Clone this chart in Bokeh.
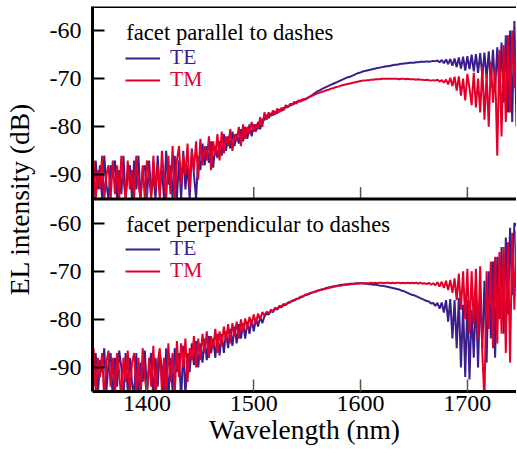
import numpy as np
from bokeh.plotting import figure
from bokeh.models import Range1d, FixedTicker, Span, Label, Legend, LegendItem
from bokeh.embed import file_html
from bokeh.resources import INLINE

# ---------------- data ----------------
wavelength = list(range(1350, 1747, 2))  # nm, 2 nm sampling

x_ticks = [1400, 1500, 1600, 1700]
y_ticks_panel = [-90, -80, -70, -60]

# facet parallel to dashes
par_tm = [
    -87, -96, -89, -93, -86, -97, -90, -88, -95, -87,
    -94, -88, -97, -86, -91, -96, -87, -93, -89, -97,
    -86, -92, -96, -88, -95, -87, -90, -97, -86, -93,
    -88, -96, -85, -91, -97, -86, -94, -84, -96, -87,
    -84, -92, -86, -90, -83.5, -93, -85, -89, -83, -91,
    -82.5, -88, -84, -87, -82, -89, -83, -86, -81.5, -87,
    -81, -85.5, -82, -84, -80.5, -85, -81.5, -83, -80, -84,
    -79.5, -82.5, -80, -81.5, -79, -81, -79.5, -80.5, -78, -80,
    -77, -78.5, -77, -77.8, -76.6, -77.5, -76.2, -77, -76, -76.6,
    -75.5, -76, -75.2, -75.5, -74.8, -75.2, -74.5, -74.8, -74.2, -74.4,
    -74.0, -73.8, -73.6, -73.4, -73.2, -73.0, -72.9, -72.7, -72.6, -72.4,
    -72.3, -72.1, -72.0, -71.8, -71.7, -71.6, -71.4, -71.3, -71.2, -71.1,
    -71.0, -70.9, -70.8, -70.7, -70.6, -70.5, -70.4, -70.4, -70.3, -70.3,
    -70.2, -70.2, -70.1, -70.1, -70.1, -70.0, -70.0, -70.0, -70.0, -70.0,
    -70.0, -70.0, -70.0, -70.1, -70.0, -70.0, -70.1, -70.0, -70.1, -70.1,
    -70.1, -70.2, -70.1, -70.2, -70.2, -70.3, -70.2, -70.3, -70.4, -70.3,
    -70.4, -70.2, -70.6, -70.3, -70.8, -70.2, -71.2, -69.8, -71.5, -69.6,
    -72.5, -69.5, -73.5, -70, -74.5, -69, -72, -75.5, -68.8, -76,
    -70, -77, -67.5, -78.5, -69, -80, -66.5, -75, -68, -86,
    -64, -82, -63, -79, -61, -77, -60, -72, -62,
]
par_te = [
    -95, -87, -93, -88, -97, -86, -92, -96, -88, -90,
    -87, -97, -89, -94, -86, -96, -90, -88, -97, -87,
    -93, -86, -97, -89, -88, -96, -87, -94, -90, -97,
    -86, -93, -89, -97, -85, -92, -88, -97, -86, -95,
    -87, -97, -85, -93, -88, -96, -84.5, -90, -97, -86,
    -89, -83.5, -88, -84, -87.5, -83, -88.5, -84, -86.5, -83,
    -86, -81.5, -85, -82, -84.5, -81, -84, -81.5, -83.5, -80.5,
    -83, -80, -82.5, -79.5, -82, -79.5, -81, -79, -80.5, -78.5,
    -78.6, -77.5, -78.2, -77.2, -77.6, -76.8, -77.2, -76.4, -76.7, -76.1,
    -76.0, -75.7, -75.6, -75.2, -75.2, -74.8, -74.8, -74.5, -74.5, -74.2,
    -74.1, -73.8, -73.5, -73.2, -72.9, -72.6, -72.4, -72.1, -71.9, -71.7,
    -71.5, -71.3, -71.1, -70.9, -70.7, -70.5, -70.3, -70.1, -69.9, -69.7,
    -69.6, -69.4, -69.2, -69.0, -68.8, -68.7, -68.5, -68.4, -68.3, -68.2,
    -68.1, -68.0, -67.9, -67.8, -67.7, -67.6, -67.5, -67.4, -67.4, -67.3,
    -67.2, -67.1, -67.1, -67.0, -66.9, -66.9, -66.8, -66.8, -66.7, -66.7,
    -66.7, -66.6, -66.6, -66.5, -66.5, -66.5, -66.4, -66.5, -66.4, -66.3,
    -66.4, -66.2, -66.6, -66.1, -66.8, -66.0, -67.0, -65.9, -67.3, -65.8,
    -67.6, -65.6, -67.9, -65.4, -68.3, -65.3, -68.0, -65.0, -68.5, -64.9,
    -68.8, -64.7, -69.5, -64.6, -70, -64.3, -71, -64, -72, -63.5,
    -73, -62.5, -75, -61, -77, -60, -79, -58, -80,
]

# facet perpendicular to dashes
perp_tm = [
    -86, -95, -88, -92, -87, -97, -89, -86.5, -94, -88,
    -96, -87, -91, -97, -88, -93, -86.5, -96, -89, -87,
    -95, -88, -97, -86, -92, -96, -88, -94, -85.5, -97,
    -89, -86, -95, -88, -97, -85, -93, -87, -96, -84.5,
    -92, -85, -90, -84, -93, -86, -88.5, -83.5, -90, -84,
    -88.5, -83, -87, -82.5, -88, -83.5, -86, -82, -87, -82.5,
    -85.5, -81.5, -84.5, -81, -85, -80.8, -83.5, -80.5, -84, -80,
    -82.5, -79.8, -82, -79.5, -81.3, -79, -80.8, -78.8, -80, -78.5,
    -79.2, -78.4, -78.8, -78.0, -78.3, -77.6, -77.8, -77.2, -77.3, -76.8,
    -76.9, -76.5, -76.4, -76.1, -76.0, -75.7, -75.6, -75.3, -75.2, -74.9,
    -74.8, -74.6, -74.5, -74.3, -74.2, -74.0, -73.9, -73.8, -73.7, -73.6,
    -73.5, -73.4, -73.3, -73.2, -73.1, -73.0, -73.0, -72.9, -72.8, -72.8,
    -72.7, -72.7, -72.6, -72.6, -72.6, -72.5, -72.5, -72.5, -72.5, -72.5,
    -72.4, -72.5, -72.4, -72.5, -72.4, -72.4, -72.5, -72.4, -72.4, -72.5,
    -72.4, -72.5, -72.4, -72.4, -72.5, -72.4, -72.5, -72.4, -72.5, -72.4,
    -72.5, -72.4, -72.6, -72.4, -72.6, -72.5, -72.7, -72.4, -72.8, -72.5,
    -72.9, -72.3, -73.2, -72.2, -73.5, -72.0, -73.9, -71.8, -74.5, -71.5,
    -76, -70.5, -78, -70, -80, -69.5, -83, -70, -81, -69.5,
    -84, -69, -87, -97, -70, -82, -68, -86, -67, -85,
    -66, -83, -65, -87, -64, -89, -62, -78, -61.5,
]
perp_te = [
    -94, -87, -96, -88.5, -91, -86, -95, -89, -87, -97,
    -88, -94, -86.5, -90, -97, -87, -95, -88, -93, -96,
    -87, -97, -89, -93, -86.5, -95, -90, -87, -97, -88,
    -94, -87, -90, -96, -86, -97, -88, -95, -86, -91,
    -87, -97, -85.5, -96, -87, -91, -85, -89.5, -84.5, -90,
    -85, -89, -84, -88.5, -83.5, -87, -84, -88, -83, -87.5,
    -83, -87, -82.5, -86, -82, -85.5, -81.5, -85, -81, -84,
    -80.8, -84, -80.5, -83, -80, -82.5, -79.8, -81.5, -79.5, -80.8,
    -79.4, -78.8, -79.0, -78.3, -78.5, -77.8, -78.0, -77.4, -77.5, -77.0,
    -77.0, -76.6, -76.5, -76.2, -76.1, -75.8, -75.7, -75.4, -75.3, -75.0,
    -74.9, -74.7, -74.5, -74.4, -74.2, -74.1, -73.9, -73.8, -73.7, -73.5,
    -73.4, -73.3, -73.2, -73.1, -73.0, -72.9, -72.8, -72.8, -72.7, -72.7,
    -72.6, -72.6, -72.6, -72.5, -72.5, -72.5, -72.5, -72.6, -72.6, -72.7,
    -72.7, -72.8, -72.8, -72.9, -73.0, -73.0, -73.1, -73.2, -73.3, -73.4,
    -73.5, -73.6, -73.7, -73.8, -74.0, -74.1, -74.3, -74.5, -74.7, -74.9,
    -75.0, -75.2, -75.4, -75.6, -75.8, -76.0, -76.2, -76.3, -76.7, -76.6,
    -77.2, -76.6, -77.8, -76.5, -78.6, -76.0, -80.5, -75.8, -84, -76,
    -86, -75.5, -90, -77, -92, -76, -92.5, -78, -88, -75,
    -90, -74, -86, -72, -89, -70, -84, -68, -88, -67,
    -80, -65, -83, -63, -79, -61, -75, -60, -60.5,
]

panel_titles = ["facet parallel to dashes", "facet perpendicular to dashes"]
series_names = ["TE", "TM"]
x_label = "Wavelength (nm)"
y_label = "EL intensity (dB)"

# ---------------- style ----------------
TE_COLOR = "#3b1e8c"
TM_COLOR = "#e2002b"
FONT = "Liberation Serif"
Y_LO, Y_HI = -95, -55          # visible range of each panel
SPAN = Y_HI - Y_LO
FRAME_H = 385
LW = 2.0

p = figure(width=516, height=456, output_backend="svg", toolbar_location=None,
           x_range=Range1d(1349, 1746),
           y_range=Range1d(Y_LO, Y_HI + SPAN),          # bottom panel in lower half
           min_border_left=91, min_border_right=0, min_border_top=6,
           min_border_bottom=65)
p.extra_y_ranges = {"top": Range1d(Y_LO - SPAN, Y_HI)}  # top panel in upper half
p.outline_line_color = None
p.xgrid.grid_line_color = None
p.ygrid.grid_line_color = None
p.background_fill_color = "white"
p.border_fill_color = "white"

top_clip = lambda v: np.clip(np.array(v, dtype=float), Y_LO, None)

r_pte = p.line(wavelength, top_clip(par_te), y_range_name="top", line_color=TE_COLOR, line_width=LW)
r_ptm = p.line(wavelength, top_clip(par_tm), y_range_name="top", line_color=TM_COLOR, line_width=LW)
r_bte = p.line(wavelength, perp_te, line_color=TE_COLOR, line_width=LW)
r_btm = p.line(wavelength, perp_tm, line_color=TM_COLOR, line_width=LW)

# axes (the left axis carries both panels: upper ticks are shifted by SPAN)
yaxis = p.yaxis[0]
xaxis = p.xaxis[0]
yaxis.ticker = FixedTicker(ticks=y_ticks_panel + [t + SPAN for t in y_ticks_panel])
yaxis.major_label_overrides = {**{t: str(t) for t in y_ticks_panel},
                               **{t + SPAN: str(t) for t in y_ticks_panel}}
xaxis.ticker = FixedTicker(ticks=x_ticks)
for ax in (xaxis, yaxis):
    ax.major_tick_in = 12
    ax.major_tick_out = 0
    ax.minor_tick_line_color = None
    ax.axis_line_width = 3
    ax.axis_line_color = "black"
    ax.major_label_text_font = FONT
    ax.major_label_text_font_size = "24px"
    ax.major_label_text_color = "black"
    ax.axis_label_text_font = FONT
    ax.axis_label_text_font_size = "27.5px"
    ax.axis_label_text_font_style = "normal"
    ax.axis_label_text_color = "black"
yaxis.major_tick_line_width = 2
yaxis.major_tick_line_color = "black"
yaxis.major_label_standoff = 11
yaxis.axis_label_standoff = 12
yaxis.axis_label = y_label
xaxis.major_tick_line_width = 1.5
xaxis.major_tick_line_color = "#555555"
xaxis.major_label_standoff = 4
xaxis.axis_label_standoff = 0
xaxis.axis_label = x_label

# top border and panel separator
p.add_layout(Span(location=Y_HI + SPAN, dimension="width", line_color="black", line_width=3))
p.add_layout(Span(location=Y_HI, dimension="width", line_color="black", line_width=3))

# inward x ticks on the bottom edge of the top panel
tick_len = 12 * (2 * SPAN) / FRAME_H
p.segment(x0=x_ticks, y0=[Y_LO] * len(x_ticks), x1=x_ticks, y1=[Y_LO + tick_len] * len(x_ticks),
          y_range_name="top", line_color="#555555", line_width=1.5)

# panel titles
TXT = dict(text_font=FONT, text_color="black")
p.add_layout(Label(x=1380.5, y=-60.3, y_range_name="top", text=panel_titles[0],
                   text_font_size="22.7px", text_baseline="alphabetic", **TXT))
p.add_layout(Label(x=1380.5, y=-60.3, text=panel_titles[1],
                   text_font_size="22.7px", text_baseline="alphabetic", **TXT))

# legends (one per entry so the text can take the series colour)
def add_legend(label, renderer, color, vy):
    leg = Legend(items=[LegendItem(label=label, renderers=[renderer])], location=(33, vy),
                 glyph_width=35, glyph_height=22, label_height=22, label_width=10,
                 label_standoff=10, padding=0, margin=0, spacing=0,
                 border_line_color=None, background_fill_alpha=0,
                 label_text_font=FONT, label_text_font_size="21.5px",
                 label_text_color=color)
    p.add_layout(leg)

add_legend(series_names[0], r_pte, TE_COLOR, 321)
add_legend(series_names[1], r_ptm, TM_COLOR, 299)
add_legend(series_names[0], r_bte, TE_COLOR, 130)
add_legend(series_names[1], r_btm, TM_COLOR, 108)

open("out.html", "w").write(file_html(p, INLINE))
